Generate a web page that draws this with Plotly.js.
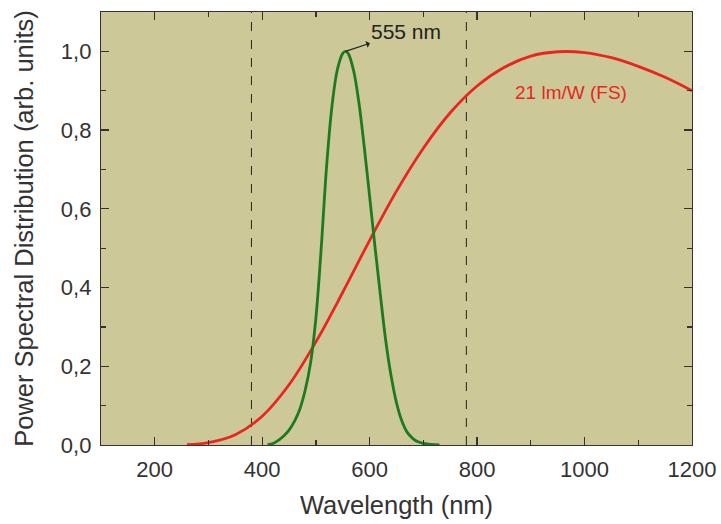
<!DOCTYPE html>
<html>
<head>
<meta charset="utf-8">
<script src="https://cdn.plot.ly/plotly-3.0.1.min.js"></script>
<style>html,body{margin:0;padding:0;background:#fff;}#chart{width:721px;height:524px;}</style>
</head>
<body>
<div id="chart"></div>
<script>
// Green curve (eye sensitivity, peak 555 nm)
const greenWavelength = [410, 420, 430, 440, 450, 460, 470, 480, 490, 500, 510, 520, 530, 540, 550, 555, 560, 570, 580, 590, 600, 610, 620, 630, 640, 650, 660, 670, 680, 690, 700, 710, 720, 730];
const greenValue = [0.001, 0.004, 0.012, 0.023, 0.038, 0.060, 0.091, 0.139, 0.208, 0.323, 0.503, 0.710, 0.862, 0.954, 0.995, 1.000, 0.995, 0.952, 0.870, 0.757, 0.631, 0.503, 0.381, 0.265, 0.175, 0.107, 0.061, 0.032, 0.017, 0.008, 0.004, 0.002, 0.001, 0.0005];
// Red curve (21 lm/W (FS))
const redWavelength = [260, 300, 350, 400, 450, 500, 550, 600, 650, 700, 750, 800, 850, 900, 950, 1000, 1050, 1100, 1150, 1200];
const redValue = [0.001, 0.006, 0.026, 0.073, 0.153, 0.262, 0.388, 0.520, 0.645, 0.754, 0.844, 0.912, 0.959, 0.988, 0.999, 0.997, 0.984, 0.962, 0.934, 0.900];
// Visible range markers
const visibleLimits = [380, 780];
const xTickVals = [200, 400, 600, 800, 1000, 1200];
const yTickVals = [0, 0.2, 0.4, 0.6, 0.8, 1.0];
const yTickText = ['0,0', '0,2', '0,4', '0,6', '0,8', '1,0'];
const peakLabel = '555 nm';
const redLabel = '21 lm/W (FS)';

const FONT = 'Liberation Sans, Arial, sans-serif';

const traces = [
  {x: redWavelength, y: redValue, mode: 'lines', line: {color: '#e8261f', width: 2.8, shape: 'spline'}, showlegend: false, hoverinfo: 'skip'},
  {x: greenWavelength, y: greenValue, mode: 'lines', line: {color: '#1f7a1f', width: 2.8, shape: 'spline'}, showlegend: false, hoverinfo: 'skip'}
];

const shapes = visibleLimits.map(v => ({
  type: 'line', xref: 'x', yref: 'paper', x0: v, x1: v, y0: 0, y1: 1,
  line: {color: '#222', width: 1, dash: 'dash'}, layer: 'below'
}));

const axisCommon = {
  showgrid: false, zeroline: false, showline: true, linecolor: '#333', linewidth: 1.2,
  mirror: 'allticks', ticks: 'inside', ticklen: 8, tickwidth: 1.2, tickcolor: '#333',
  ticklabelstandoff: 4,
  tickfont: {family: FONT, size: 22, color: '#333'}
};

const layout = {
  width: 721, height: 524,
  margin: {l: 101, r: 29, t: 12, b: 79},
  paper_bgcolor: '#ffffff',
  plot_bgcolor: '#ccc897',
  xaxis: Object.assign({}, axisCommon, {
    range: [100, 1200], tickvals: xTickVals,
    minor: {ticks: 'inside', ticklen: 5, tickwidth: 1.2, tickcolor: '#333', dtick: 100, tick0: 100},
    title: {text: 'Wavelength (nm)', standoff: 15, font: {family: FONT, size: 25.5, color: '#333'}}
  }),
  yaxis: Object.assign({}, axisCommon, {
    range: [0, 1.1], tickvals: yTickVals, ticktext: yTickText,
    minor: {ticks: 'inside', ticklen: 5, tickwidth: 1.2, tickcolor: '#333', dtick: 0.1, tick0: 0},
    title: {text: 'Power Spectral Distribution (arb. units)', standoff: 19, font: {family: FONT, size: 25.5, color: '#333'}}
  }),
  shapes: shapes,
  annotations: [
    {x: 555, y: 1.0, xref: 'x', yref: 'y', text: peakLabel, showarrow: true,
     arrowhead: 2, arrowside: 'start', arrowsize: 1, arrowwidth: 1.2, arrowcolor: '#222',
     ax: 61, ay: -20, xanchor: 'center', yanchor: 'middle', standoff: 0, startstandoff: 0,
     font: {family: FONT, size: 21, color: '#222'}},
    {x: 975, y: 0.895, xref: 'x', yref: 'y', text: redLabel, showarrow: false,
     font: {family: FONT, size: 19, color: '#e8261f'}}
  ]
};

Plotly.newPlot('chart', traces, layout, {staticPlot: true});
</script>
</body>
</html>
